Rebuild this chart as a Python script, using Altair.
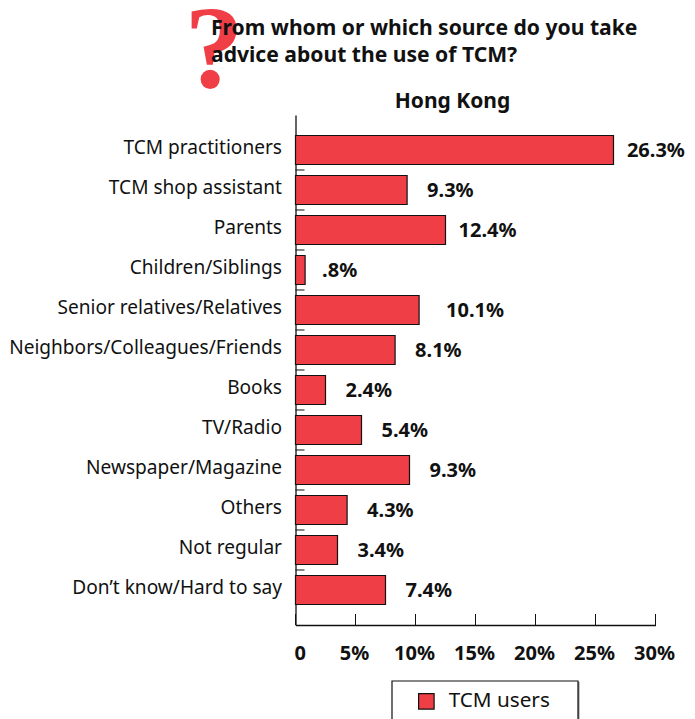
import altair as alt
import pandas as pd

categories = ["TCM practitioners", "TCM shop assistant", "Parents", "Children/Siblings",
              "Senior relatives/Relatives", "Neighbors/Colleagues/Friends", "Books", "TV/Radio",
              "Newspaper/Magazine", "Others", "Not regular", "Don’t know/Hard to say"]
bar_values = [26.5, 9.3, 12.5, 0.8, 10.3, 8.3, 2.5, 5.5, 9.5, 4.3, 3.5, 7.5]
value_labels = ["26.3%", "9.3%", "12.4%", ".8%", "10.1%", "8.1%", "2.4%", "5.4%", "9.3%", "4.3%", "3.4%", "7.4%"]
x_ticks = [0, 5, 10, 15, 20, 25, 30]
series_name = "TCM users"
title_lines = ["From whom or which source do you take", "advice about the use of TCM?"]
subtitle = "Hong Kong"

RED = "#ef3e46"
INK = "#111111"
FONT = "Noto Sans"

df = pd.DataFrame({"cat": categories, "v": bar_values, "lab": value_labels, "series": series_name})
xs = alt.Scale(domain=[0, 30], nice=False, zero=True)
ys = alt.Scale(domain=categories, paddingInner=0.275, paddingOuter=0.5125)
one = pd.DataFrame({"k": [0]})

mark = alt.Chart(one).mark_text(
    text="?", font="Liberation Serif", fontWeight="bold", fontSize=118, color=RED,
    align="center", baseline="alphabetic"
).encode(x=alt.value(-81.5), y=alt.value(-28))

question = alt.Chart(one).mark_text(
    text=title_lines, lineHeight=27, font=FONT, fontWeight="bold", fontSize=21.1, color=INK,
    align="left", baseline="alphabetic"
).encode(x=alt.value(-84.5), y=alt.value(-80.5))

shadow = alt.Chart(one).mark_rect(fill="#8a8a8a").encode(
    x=alt.value(97.5), x2=alt.value(284), y=alt.value(567), y2=alt.value(612))
box = alt.Chart(one).mark_rect(fill="white", stroke=INK, strokeWidth=1.2).encode(
    x=alt.value(96.5), x2=alt.value(282.5), y=alt.value(566), y2=alt.value(612))

bars = alt.Chart(df).mark_bar(stroke=INK, strokeWidth=1.2).encode(
    x=alt.X("v:Q", scale=xs,
            axis=alt.Axis(values=x_ticks, title=None, tickSize=0, labelPadding=18, labelFontSize=20,
                          labelFont=FONT, labelFontWeight="bold", labelColor=INK, labelOffset=-1.5,
                          labelExpr="datum.value == 0 ? '0' : datum.value + '%'",
                          labelAlign=alt.expr("datum.value == 0 ? 'left' : 'center'"),
                          labelFlush=False, labelOverlap=False,
                          domainColor=INK, domainWidth=1.3, grid=False)),
    y=alt.Y("cat:N", scale=ys, sort=None,
            axis=alt.Axis(title=None, tickSize=0, labelPadding=14, labelFontSize=19.1, labelFont=FONT,
                          labelColor=INK, labelOffset=-2, labelLimit=300,
                          domainColor=INK, domainWidth=1.3, grid=False)),
    color=alt.Color("series:N", scale=alt.Scale(range=[RED]),
                    legend=alt.Legend(title=None, orient="none", legendX=120.5, legendY=576,
                                      symbolType="square", symbolSize=240, symbolStrokeColor=INK,
                                      symbolStrokeWidth=1.2, labelFontSize=20.7, labelFont=FONT,
                                      labelColor=INK, labelOffset=12, padding=0, offset=0)),
)

labels = alt.Chart(df).transform_calculate(
    nudge="datum.lab == '26.3%' ? -0.55 : datum.lab == '12.4%' ? -0.58 : datum.lab == '10.1%' ? 0.58 : datum.lab == '.8%' ? -0.25 : 0",
    lx="datum.v + datum.nudge",
).mark_text(
    font=FONT, fontWeight="bold", fontSize=20, color=INK, align="left", baseline="middle", dx=20, dy=0.5
).encode(x=alt.X("lx:Q", scale=xs), y=alt.Y("cat:N", scale=ys, sort=None), text="lab:N")

cat_ticks = alt.Chart(df.iloc[:-1]).mark_rule(color=INK, strokeWidth=1, yOffset=5.5).encode(
    y=alt.Y("cat:N", scale=ys, sort=None, bandPosition=1),
    x=alt.datum(0, scale=xs),
    x2=alt.datum(0.75),
)

val_ticks = alt.Chart(pd.DataFrame({"x": x_ticks})).mark_rule(color=INK, strokeWidth=1).encode(
    x=alt.X("x:Q", scale=xs),
    y=alt.value(499), y2=alt.value(510),
)

head = alt.Chart(one).mark_text(
    text=subtitle, font=FONT, fontWeight="bold", fontSize=21, color=INK, align="center", baseline="middle"
).encode(x=alt.value(157), y=alt.value(-13))

chart = alt.layer(mark, question, shadow, box, bars, cat_ticks, val_ticks, labels, head).properties(
    width=360, height=510, background="white",
    padding={"left": 287.5, "top": 107, "right": 31.5, "bottom": 94},
    autosize=alt.AutoSizeParams(type="none"),
).configure_view(stroke=None)

chart.save("out.html", embed_options={"renderer": "svg", "actions": False})
